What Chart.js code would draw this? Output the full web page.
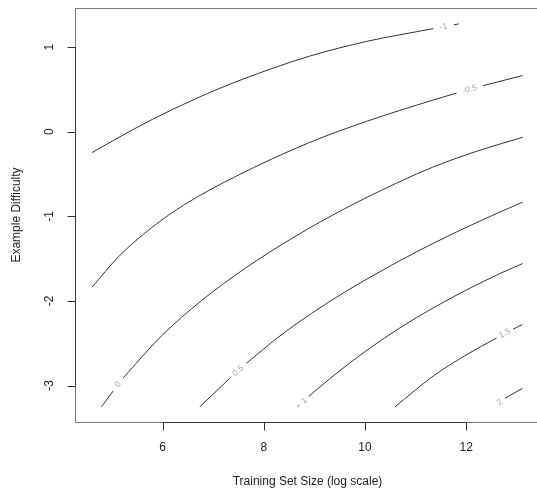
<!DOCTYPE html>
<html>
<head>
<meta charset="utf-8">
<script src="https://cdn.jsdelivr.net/npm/chart.js@4"></script>
<style>
  html, body { margin: 0; padding: 0; background: #fff; overflow: hidden; }
  #wrap { width: 545px; height: 492px; }
</style>
</head>
<body>
<div id="wrap"><canvas id="chart" width="545" height="492"></canvas></div>
<script>
// contour levels and their lines (null = label gap)
const levels = ['-1', '-0.5', '0', '0.5', '1', '1.5', '2'];
const lineM1 = [[4.609, -0.246], [5.453, 0.037], [6.144, 0.247], [7.132, 0.513], [8.121, 0.738], [8.911, 0.894], [10.032, 1.067], [11.348, 1.218], null, [11.757, 1.264], [11.856, 1.274]];
const lineM05 = [[4.609, -1.836], [5.123, -1.482], [5.783, -1.135], [6.441, -0.859], [7.429, -0.534], [8.911, -0.126], [10.032, 0.122], [11.348, 0.374], [11.81, 0.456], null, [12.336, 0.544], [13.115, 0.664]];
const line0 = [[4.794, -3.251], [5.024, -3.065], null, [5.221, -2.911], [5.98, -2.413], [6.771, -1.996], [7.626, -1.618], [8.615, -1.24], [9.603, -0.909], [10.69, -0.59], [11.348, -0.417], [12.271, -0.219], [13.115, -0.067]];
const line05 = [[6.737, -3.251], [7.33, -2.914], null, [7.66, -2.736], [8.285, -2.43], [8.945, -2.147], [9.603, -1.895], [10.69, -1.525], [11.348, -1.32], [12.271, -1.056], [13.115, -0.833]];
const line1 = [[8.668, -3.251], [8.704, -3.23], null, [8.891, -3.128], [9.372, -2.887], [10.032, -2.586], [10.69, -2.319], [11.348, -2.083], [12.008, -1.87], [12.666, -1.677], [13.115, -1.559]];
const line15 = [[10.595, -3.251], [11.348, -2.889], [12.008, -2.636], [12.601, -2.437], null, [12.929, -2.333], [13.115, -2.278]];
const line2 = [[12.567, -3.251], null, [12.765, -3.151], [13.115, -3.033]];
const contours = [lineM1, lineM05, line0, line05, line1, line15, line2];

const xTicks = [6, 8, 10, 12];
const yTicks = [-3, -2, -1, 0, 1];
const xTitle = 'Training Set Size (log scale)';
const yTitle = 'Example Difficulty';

const FONT = '"Liberation Sans", Arial, sans-serif';

function toPoints(line) {
    let prevX = 0;
    return line.map(p => {
        if (p === null) return { x: prevX, y: null };
        prevX = p[0];
        return { x: p[0], y: p[1] };
    });
}

// draws the R-style axes, box and contour labels
const rAxes = {
    id: 'rAxes',
    afterDraw(chart) {
        const ctx = chart.ctx;
        const a = chart.chartArea;
        const xs = chart.scales.x, ys = chart.scales.y;
        ctx.save();

        ctx.strokeStyle = '#7a7a7a';
        ctx.lineWidth = 1;
        ctx.strokeRect(Math.round(a.left) + 0.5, Math.round(a.top) + 0.5, a.right - a.left, a.bottom - a.top);

        ctx.strokeStyle = '#333';
        ctx.fillStyle = '#222';
        ctx.font = '12px ' + FONT;

        // x axis
        const bx = Math.round(a.bottom) + 0.5;
        ctx.beginPath();
        ctx.moveTo(xs.getPixelForValue(xTicks[0]), bx);
        ctx.lineTo(xs.getPixelForValue(xTicks[xTicks.length - 1]), bx);
        xTicks.forEach(t => {
            const px = Math.round(xs.getPixelForValue(t)) + 0.5;
            ctx.moveTo(px, bx);
            ctx.lineTo(px, bx + 8);
        });
        ctx.stroke();
        ctx.textAlign = 'center';
        ctx.textBaseline = 'middle';
        xTicks.forEach(t => ctx.fillText(String(t), xs.getPixelForValue(t), a.bottom + 26));
        ctx.fillText(xTitle, (a.left + a.right) / 2, a.bottom + 60);

        // y axis
        const lx = Math.round(a.left) + 0.5;
        ctx.beginPath();
        ctx.moveTo(lx, ys.getPixelForValue(yTicks[0]));
        ctx.lineTo(lx, ys.getPixelForValue(yTicks[yTicks.length - 1]));
        yTicks.forEach(t => {
            const py = Math.round(ys.getPixelForValue(t)) + 0.5;
            ctx.moveTo(lx, py);
            ctx.lineTo(lx - 8, py);
        });
        ctx.stroke();
        yTicks.forEach(t => {
            ctx.save();
            ctx.translate(a.left - 25, ys.getPixelForValue(t));
            ctx.rotate(-Math.PI / 2);
            ctx.fillText(String(t), 0, 0);
            ctx.restore();
        });
        ctx.save();
        ctx.translate(17, (a.top + a.bottom) / 2);
        ctx.rotate(-Math.PI / 2);
        ctx.fillText(yTitle, 0, 0);
        ctx.restore();

        // contour labels sit in the gap of each line
        ctx.fillStyle = '#a8a8a8';
        ctx.font = '8.5px ' + FONT;
        contours.forEach((line, i) => {
            const g = line.indexOf(null);
            if (g < 1) return;
            const p0 = line[g - 1], p1 = line[g + 1];
            const x0 = xs.getPixelForValue(p0[0]), y0 = ys.getPixelForValue(p0[1]);
            const x1 = xs.getPixelForValue(p1[0]), y1 = ys.getPixelForValue(p1[1]);
            ctx.save();
            ctx.translate((x0 + x1) / 2, (y0 + y1) / 2);
            ctx.rotate(Math.atan2(y1 - y0, x1 - x0));
            ctx.fillText(levels[i], 0, 0);
            ctx.restore();
        });

        ctx.restore();
    }
};

new Chart(document.getElementById('chart'), {
    type: 'scatter',
    data: {
        datasets: contours.map((line, i) => ({
            label: levels[i],
            data: toPoints(line),
            showLine: true,
            spanGaps: false,
            borderColor: '#333',
            borderWidth: 1,
            pointRadius: 0,
            cubicInterpolationMode: 'monotone'
        }))
    },
    options: {
        responsive: false,
        animation: false,
        layout: { padding: { left: 75, right: 5, top: 8, bottom: 70 } },
        plugins: { legend: { display: false }, tooltip: { enabled: false } },
        scales: {
            x: { type: 'linear', min: 4.27, max: 13.46, display: false },
            y: { type: 'linear', min: -3.431, max: 1.462, display: false }
        }
    },
    plugins: [rAxes]
});
</script>
</body>
</html>
